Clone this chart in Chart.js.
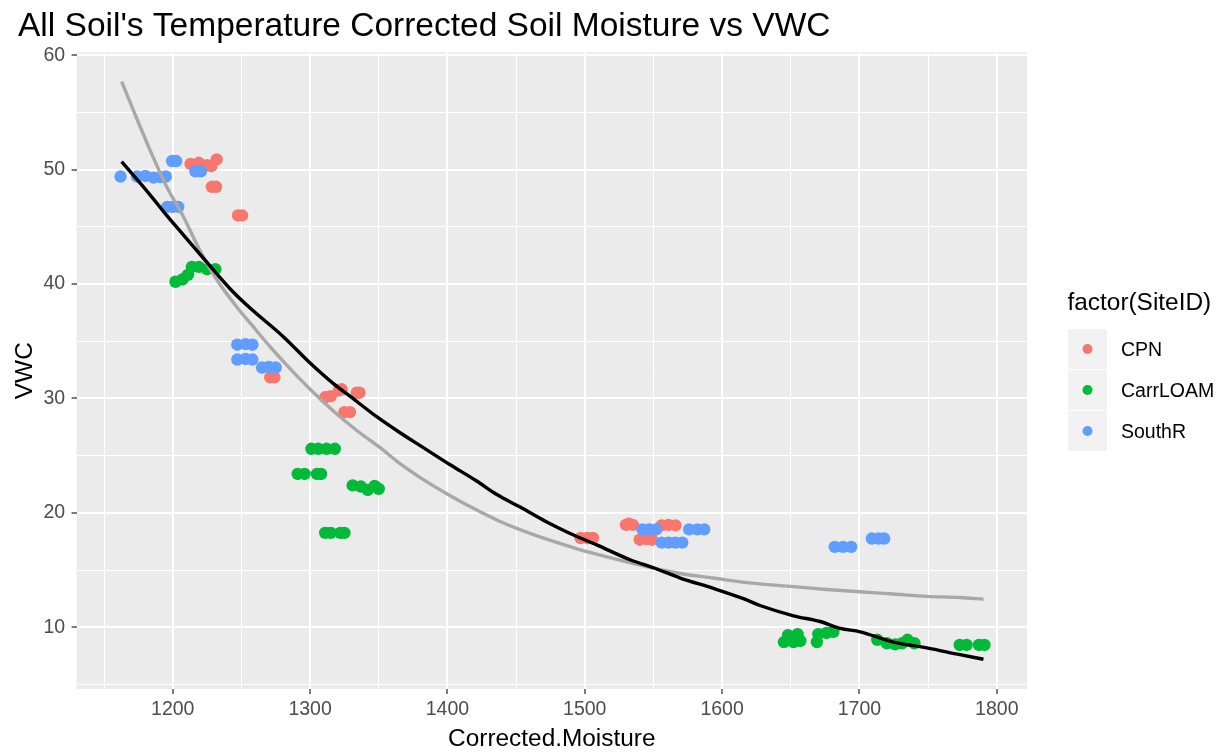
<!DOCTYPE html>
<html>
<head>
<meta charset="utf-8">
<script src="https://cdn.jsdelivr.net/npm/chart.js@4/dist/chart.umd.min.js"></script>
<style>
html,body{margin:0;padding:0;background:#ffffff;}
#wrap{width:1225px;height:754px;position:relative;}
</style>
</head>
<body>
<div id="wrap"><canvas id="c" width="1225" height="754"></canvas></div>
<script>
// ---------- text ----------
const chartTitle = "All Soil's Temperature Corrected Soil Moisture vs VWC";
const xTitle = "Corrected.Moisture";
const yTitle = "VWC";
const legendTitle = "factor(SiteID)";
const siteNames = ["CPN", "CarrLOAM", "SouthR"];
const siteColors = ["#F8766D", "#00BA38", "#619CFF"];

// ---------- ticks ----------
const xMajorTicks = [1200, 1300, 1400, 1500, 1600, 1700, 1800];
const xMinorTicks = [1150, 1250, 1350, 1450, 1550, 1650, 1750];
const yMajorTicks = [10, 20, 30, 40, 50, 60];
const yMinorTicks = [5, 15, 25, 35, 45, 55];

// ---------- points ----------
const cpnX = [1213, 1219, 1225, 1228, 1232, 1228.5, 1231.5, 1247.5, 1250.5, 1271, 1274,
  1311, 1315, 1321, 1323, 1334, 1336, 1325, 1329,
  1497, 1502, 1506, 1530, 1532, 1535, 1540, 1545, 1549, 1556, 1561, 1566];
const cpnY = [50.5, 50.6, 50.4, 50.3, 50.9, 48.5, 48.5, 46.0, 46.0, 31.85, 31.85,
  30.1, 30.2, 30.7, 30.8, 30.5, 30.5, 28.8, 28.8,
  17.8, 17.8, 17.8, 18.95, 19.05, 18.95, 17.65, 17.7, 17.65, 18.9, 18.95, 18.9];

const carrX = [1202, 1207, 1211, 1214, 1219, 1225, 1231,
  1301, 1306, 1312, 1318, 1291, 1296, 1305, 1308,
  1331, 1337, 1342, 1347, 1350, 1311, 1315, 1322, 1325,
  1645, 1648, 1652, 1655, 1657, 1669, 1670, 1676, 1681,
  1713, 1720, 1726, 1731, 1735, 1740, 1773, 1778, 1787, 1791];
const carrY = [40.2, 40.4, 40.8, 41.5, 41.5, 41.3, 41.3,
  25.6, 25.6, 25.6, 25.6, 23.4, 23.4, 23.4, 23.4,
  22.4, 22.3, 22.0, 22.35, 22.1, 18.25, 18.25, 18.25, 18.25,
  8.7, 9.3, 8.7, 9.4, 8.8, 8.7, 9.4, 9.5, 9.6,
  8.9, 8.6, 8.5, 8.6, 8.9, 8.6, 8.45, 8.45, 8.45, 8.45];

const southX = [1162, 1174, 1180, 1186, 1191, 1195, 1199.5, 1202.5, 1216.5, 1220.5,
  1196, 1200, 1204, 1247, 1253, 1258, 1247, 1253, 1258, 1265, 1270, 1275,
  1542, 1547, 1552, 1556, 1561, 1566, 1571, 1576, 1582, 1587,
  1682, 1688, 1694, 1709, 1714, 1718];
const southY = [49.4, 49.4, 49.45, 49.3, 49.35, 49.4, 50.75, 50.75, 49.85, 49.85,
  46.75, 46.75, 46.75, 34.7, 34.75, 34.7, 33.4, 33.45, 33.4, 32.7, 32.75, 32.7,
  18.55, 18.55, 18.55, 17.4, 17.4, 17.4, 17.4, 18.55, 18.55, 18.55,
  17.02, 17.02, 17.02, 17.75, 17.75, 17.75];

// ---------- fitted curves ----------
const blackX = [1162.8, 1183.5, 1195.6, 1207.7, 1219.9, 1232, 1244, 1256.3, 1280.5, 1300,
  1317, 1329, 1348.5, 1365.5, 1382.5, 1402, 1421, 1436, 1453, 1472.3, 1489.3, 1508.7,
  1533, 1550, 1569.5, 1593.6, 1615.5, 1627.6, 1652, 1671.4, 1686, 1700.5, 1724.7,
  1749, 1773.2, 1790.3];
const blackY = [50.7, 47.8, 46.0, 44.3, 42.6, 40.9, 39.3, 37.9, 35.4, 33.1,
  31.3, 30.2, 28.4, 27.0, 25.7, 24.2, 22.8, 21.6, 20.5, 19.2, 18.2, 17.2,
  15.9, 15.2, 14.3, 13.4, 12.5, 11.9, 11.0, 10.5, 9.9, 9.6, 8.7,
  8.2, 7.6, 7.2];

const greyX = [1162.8, 1171.3, 1183.5, 1195.6, 1207.7, 1219.9, 1232, 1246.6, 1256.3, 1271,
  1285.4, 1300, 1317, 1334, 1351, 1365.5, 1382.5, 1402, 1423.8, 1443, 1462.6, 1484,
  1501.5, 1521, 1545, 1569.5, 1593.6, 1618, 1652, 1676, 1700.5, 1724.7, 1749, 1773.2, 1790.3];
const greyY = [57.7, 55.2, 51.7, 48.5, 45.9, 42.9, 40.4, 38.0, 36.6, 34.5,
  32.6, 30.8, 28.9, 27.2, 25.7, 24.3, 22.9, 21.5, 20.1, 19.0, 18.1, 17.25,
  16.6, 16.0, 15.3, 14.7, 14.3, 13.9, 13.55, 13.3, 13.1, 12.9, 12.7, 12.6, 12.45];

const FONT = '"Liberation Sans", Arial, Helvetica, sans-serif';
const toXY = (xs, ys) => xs.map((x, i) => ({x: x, y: ys[i]}));

const panelBg = {
  id: 'panelBg',
  beforeDraw(chart) {
    const a = chart.chartArea, ctx = chart.ctx;
    ctx.save();
    ctx.fillStyle = '#FFFFFF';
    ctx.fillRect(0, 0, chart.width, chart.height);
    ctx.fillStyle = '#EBEBEB';
    ctx.fillRect(a.left, a.top, a.right - a.left, a.bottom - a.top);
    ctx.restore();
  }
};

const ggLegend = {
  id: 'ggLegend',
  afterDraw(chart) {
    const ctx = chart.ctx;
    ctx.save();
    ctx.textAlign = 'left';
    ctx.textBaseline = 'middle';
    ctx.fillStyle = '#000000';
    ctx.font = '24.4px ' + FONT;
    ctx.fillText(legendTitle, 1067.5, 303);
    siteNames.forEach((name, i) => {
      const top = 328.5 + i * 41;
      ctx.fillStyle = '#F2F2F2';
      ctx.fillRect(1067.5, top, 40, 41);
      ctx.strokeStyle = '#FFFFFF';
      ctx.lineWidth = 1;
      ctx.strokeRect(1067.5, top, 40, 41);
      ctx.beginPath();
      ctx.arc(1087.5, top + 20.5, 5, 0, Math.PI * 2);
      ctx.fillStyle = siteColors[i];
      ctx.fill();
      ctx.fillStyle = '#000000';
      ctx.font = '19.5px ' + FONT;
      ctx.fillText(name, 1121, top + 22);
    });
    ctx.restore();
  }
};

function pointSet(label, xs, ys, color, order) {
  return {
    type: 'scatter', label: label, data: toXY(xs, ys), order: order,
    backgroundColor: color, borderColor: color, borderWidth: 0,
    pointRadius: 6.2, pointHoverRadius: 6.2, pointStyle: 'circle'
  };
}
function lineSet(label, xs, ys, color, width, order) {
  return {
    type: 'line', label: label, data: toXY(xs, ys), order: order,
    borderColor: color, backgroundColor: color, borderWidth: width,
    pointRadius: 0, pointHoverRadius: 0, fill: false,
    cubicInterpolationMode: 'monotone',
    borderJoinStyle: 'round', borderCapStyle: 'butt', showLine: true
  };
}

const isMajorX = v => xMajorTicks.includes(v);
const isMajorY = v => yMajorTicks.includes(v);

new Chart(document.getElementById('c'), {
  type: 'scatter',
  data: {
    datasets: [
      lineSet('loess', blackX, blackY, '#000000', 3.4, 0),
      lineSet('nls', greyX, greyY, '#A8A8A8', 3.4, 1),
      pointSet(siteNames[2], southX, southY, siteColors[2], 2),
      pointSet(siteNames[1], carrX, carrY, siteColors[1], 3),
      pointSet(siteNames[0], cpnX, cpnY, siteColors[0], 4)
    ]
  },
  options: {
    responsive: false,
    animation: false,
    devicePixelRatio: 1,
    events: [],
    layout: { padding: { left: 18, right: 198, top: 0, bottom: 0 }, autoPadding: false },
    plugins: {
      legend: { display: false },
      tooltip: { enabled: false },
      title: {
        display: true, text: chartTitle, align: 'start', color: '#000000',
        font: { family: FONT, size: 33.5, weight: 'normal' },
        padding: { top: 6.5, bottom: 5.7 }
      }
    },
    scales: {
      x: {
        type: 'linear', min: 1130, max: 1822,
        afterBuildTicks: s => { s.ticks = xMinorTicks.concat(xMajorTicks).sort((a, b) => a - b).map(v => ({value: v})); },
        afterFit: s => { s.height = 65; },
        ticks: {
          autoSkip: false, maxRotation: 0, padding: 4, color: '#4D4D4D',
          font: { family: FONT, size: 19.5 },
          callback: v => isMajorX(v) ? String(v) : ''
        },
        grid: {
          color: '#FFFFFF',
          lineWidth: c => (c.tick && isMajorX(c.tick.value)) ? 2 : 1,
          tickLength: 5, tickWidth: 1.3,
          tickColor: c => (c.tick && isMajorX(c.tick.value)) ? '#333333' : 'rgba(0,0,0,0)'
        },
        border: { display: false },
        title: { display: true, text: xTitle, color: '#000000', font: { family: FONT, size: 24.4 }, padding: { top: 0, bottom: 0 } }
      },
      y: {
        type: 'linear', min: 4.6, max: 60.25,
        afterBuildTicks: s => { s.ticks = yMinorTicks.concat(yMajorTicks).sort((a, b) => a - b).map(v => ({value: v})); },
        afterFit: s => { s.width = 58.6; },
        ticks: {
          autoSkip: false, padding: 6.5, color: '#4D4D4D',
          font: { family: FONT, size: 19.5 },
          callback: v => isMajorY(v) ? String(v) : ''
        },
        grid: {
          color: '#FFFFFF',
          lineWidth: c => (c.tick && isMajorY(c.tick.value)) ? 2 : 1,
          tickLength: 5, tickWidth: 1.3,
          tickColor: c => (c.tick && isMajorY(c.tick.value)) ? '#333333' : 'rgba(0,0,0,0)'
        },
        border: { display: false },
        title: { display: true, text: yTitle, color: '#000000', font: { family: FONT, size: 24.4 }, padding: { top: -7, bottom: 0 } }
      }
    }
  },
  plugins: [panelBg, ggLegend]
});
</script>
</body>
</html>
